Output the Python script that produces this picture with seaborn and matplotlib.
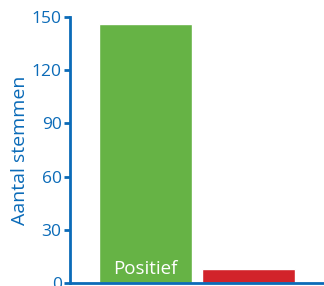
import pandas as pd
import matplotlib
matplotlib.use('Agg')
import matplotlib.pyplot as plt
import seaborn as sns

# data
categories = ['Positief', 'Negatief']
votes = [146, 8]
bar_colors = ['#66b345', '#d2232a']

blue = '#0b6bb8'

sns.set_style('white')
plt.rcParams['font.family'] = ['Open Sans', 'DejaVu Sans']

df = pd.DataFrame({'Stemming': categories, 'Stemmen': votes})

fig = plt.figure(figsize=(3.24, 2.86), dpi=100)
ax = fig.add_axes([0.216, 0.0105, 0.784, 0.93])

sns.barplot(data=df, x='Stemming', y='Stemmen', hue='Stemming',
            palette=bar_colors, width=0.907, saturation=1, legend=False, ax=ax)

# label inside the bar, only where it fits
for i, (cat, val) in enumerate(zip(categories, votes)):
    if val > 20:
        ax.text(i, 3, cat, color='white', ha='center', va='bottom', fontsize=13.5)

ax.set_xlim(-0.737, 1.741)
ax.set_ylim(0, 150)
ax.set_yticks([0, 30, 60, 90, 120, 150])
ax.set_xticks([])
ax.set_xlabel('')
ax.set_ylabel('Aantal stemmen', color=blue, fontsize=14, labelpad=2)

for side in ['top', 'right']:
    ax.spines[side].set_visible(False)
for side in ['left', 'bottom']:
    ax.spines[side].set_color(blue)
    ax.spines[side].set_linewidth(2)

ax.tick_params(axis='y', colors=blue, labelsize=12.5, length=4, width=2, direction='out', left=True, pad=2)

fig.savefig('out.png', dpi=100)
